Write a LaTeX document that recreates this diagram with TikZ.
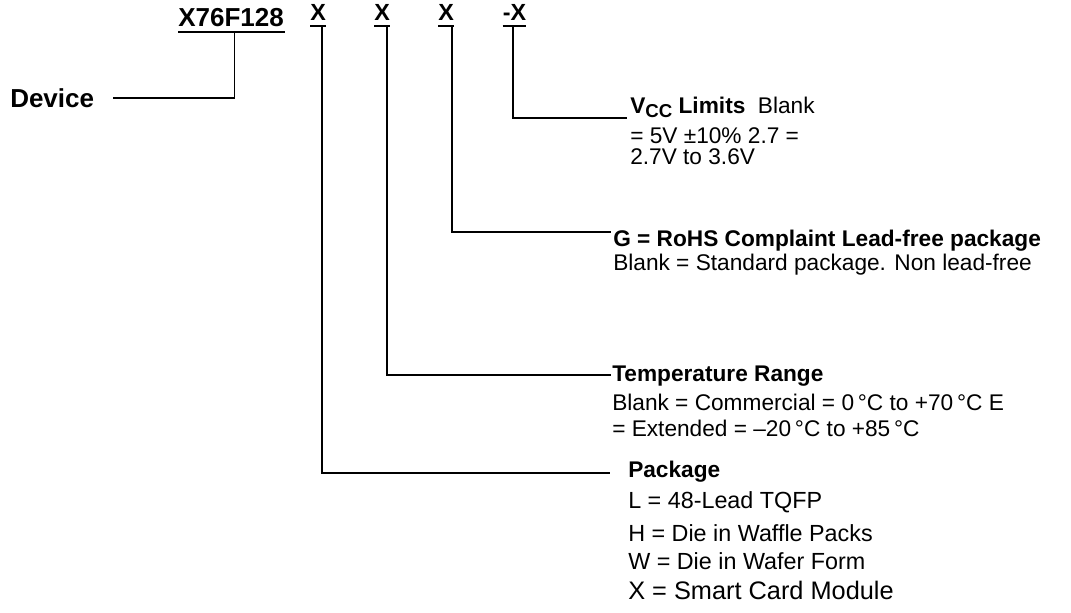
\documentclass[tikz,border=0pt]{standalone}
\usepackage{fontspec}
\setmainfont{Liberation Sans}
\begin{document}
\begin{tikzpicture}[x=0.75pt,y=-0.75pt,
  lead/.style={line width=1.4pt},
  thinlead/.style={line width=0.7pt},
  big/.style={font=\bfseries\fontsize{19.5}{22}\selectfont, inner sep=0pt, anchor=base west},
  xsel/.style={font=\bfseries\fontsize{17.5}{20}\selectfont, inner sep=0pt, anchor=base west},
  head/.style={font=\bfseries\fontsize{17}{20}\selectfont, inner sep=0pt, anchor=base west},
  body/.style={font=\fontsize{17}{20}\selectfont, inner sep=0pt, anchor=base west},
  pbody/.style={font=\fontsize{17.5}{20}\selectfont, inner sep=0pt, anchor=base west},
]
\useasboundingbox (0,0) rectangle (1071,613);

% title and selectors
\node[big] (dev) at (178,27) {X76F128};
\draw[lead] (dev.base west) ++(0,5) coordinate (du1) -- (285,32) coordinate (du2);
\node[xsel] (xa) at (310,21) {X};
\node[xsel] (xb) at (374,21) {X};
\node[xsel] (xc) at (438,21) {X};
\node[xsel] (xd) at (502.7,21) {-X};
\draw[lead] (xa.base west) ++(0,5) -- ++(16,0);
\draw[lead] (xb.base west) ++(0,5) -- ++(16,0);
\draw[lead] (xc.base west) ++(0,5) -- ++(16,0);
\draw[lead] (xd.base west) ++(0,5) -- ++(23.3,0);

% Device
\node[big] (devlbl) at (10,108) {Device};
\coordinate (dtop) at (234.5,32);
\coordinate (dcorner) at (234.5,98);
\coordinate (dend) at (113,98);
\draw[thinlead] (dtop) -- (dcorner);
\draw[lead] (dcorner) -- (dend);

% Vcc
\node[head] (vcc) at (630,114) {V\raisebox{-2.4pt}{\fontsize{14}{16}\selectfont CC} Limits\mdseries\ \ Blank};
\node[body] (vcc2) at (630,143.3) {= 5V ±10\% 2.7 =};
\node[body] (vcc3) at (630,165) {2.7V to 3.6V};
\coordinate (sd) at (513.3,26);
\coordinate (ed) at (627,118);
\draw[lead] (sd) |- (ed);

% G
\node[head] (rohs) at (613,247) {G = RoHS Complaint Lead-free package};
\node[body] (rohs2) at (613,270) {Blank = Standard package. Non lead-free};
\coordinate (sc) at (451.7,26);
\coordinate (ec) at (611,232);
\draw[lead] (sc) |- (ec);

% Temperature
\node[head] (temp) at (612,381) {Temperature Range};
\node[body] (temp2) at (612,410) {Blank = Commercial = 0\,°C to +70\,°C E};
\node[body] (temp3) at (612,436.7) {= Extended = –20\,°C to +85\,°C};
\coordinate (sb) at (387.3,26);
\coordinate (eb) at (611,375);
\draw[lead] (sb) |- (eb);

% Package
\node[head] (pkg) at (628,477.5) {Package};
\node[pbody] (pkg1) at (628,508.3) {L = 48-Lead TQFP};
\node[pbody] (pkg2) at (628,541) {H = Die in Waffle Packs};
\node[pbody] (pkg3) at (628,569) {W = Die in Wafer Form};
\node[pbody, font=\fontsize{19}{22}\selectfont] (pkg4) at (628,599) {X = Smart Card Module};
\coordinate (sa) at (322.3,26);
\coordinate (ea) at (610,473);
\draw[lead] (sa) |- (ea);
\end{tikzpicture}
\end{document}
